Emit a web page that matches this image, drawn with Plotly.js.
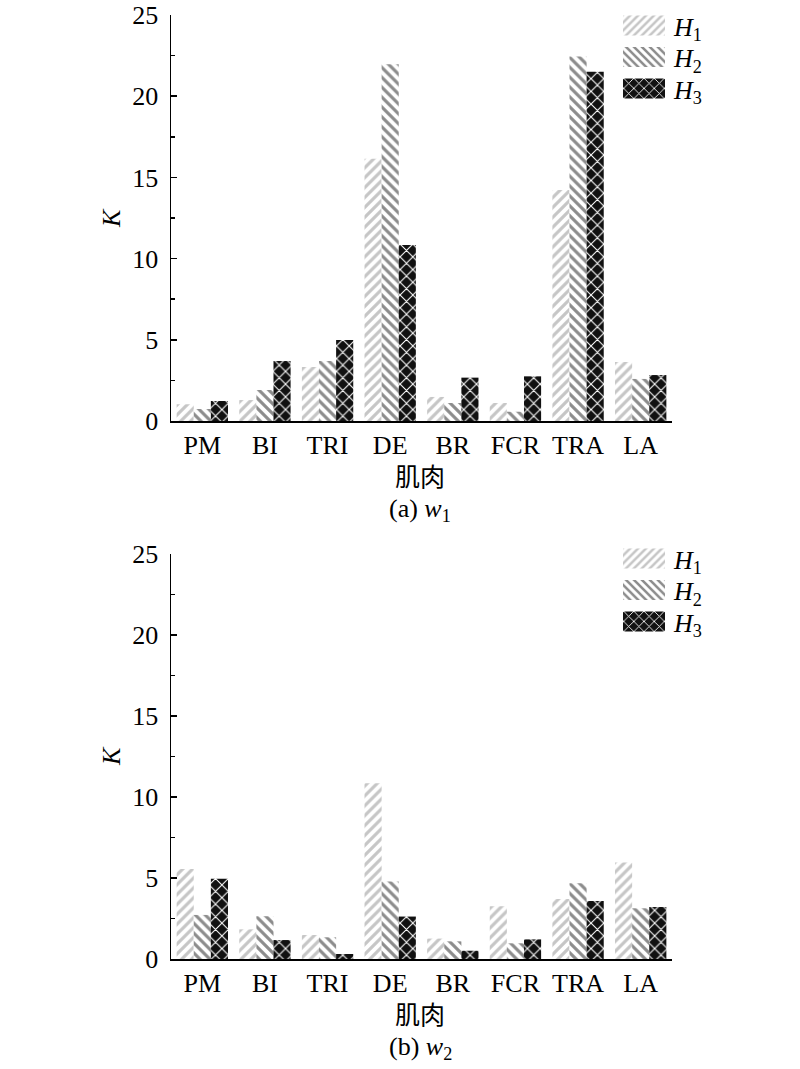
<!DOCTYPE html>
<html>
<head>
<meta charset="utf-8">
<script src="https://cdn.plot.ly/plotly-3.0.1.min.js"></script>
<style>html,body{margin:0;padding:0;background:#fff;}#chart{width:800px;height:1069px;}</style>
</head>
<body>
<div id="chart"></div>
<script>
// ---------- data ----------
const muscles = ["PM", "BI", "TRI", "DE", "BR", "FCR", "TRA", "LA"];
const seriesNames = ["<i>H</i><sub>1</sub>", "<i>H</i><sub>2</sub>", "<i>H</i><sub>3</sub>"];
// (a) w1
const w1_H1 = [1.03, 1.29, 3.33, 16.15, 1.48, 1.11, 14.22, 3.63];
const w1_H2 = [0.74, 1.91, 3.69, 21.96, 1.11, 0.57, 22.45, 2.59];
const w1_H3 = [1.23, 3.69, 4.99, 10.84, 2.67, 2.75, 21.51, 2.83];
// (b) w2
const w2_H1 = [5.56, 1.83, 1.48, 10.85, 1.26, 3.25, 3.71, 5.95];
const w2_H2 = [2.72, 2.64, 1.34, 4.78, 1.09, 0.97, 4.67, 3.13];
const w2_H3 = [4.96, 1.17, 0.31, 2.62, 0.51, 1.21, 3.58, 3.21];
const yTicks = [0, 5, 10, 15, 20, 25];
const xTitle = "肌肉";
const yTitle = "<i>K</i>";
const panelLabels = ["(a) <i>w</i><sub>1</sub>", "(b) <i>w</i><sub>2</sub>"];

// ---------- styling ----------
const W = 800, H = 1069;
const M = {l: 171, r: 128, t: 15, b: 110, autoexpand: false};
const PW = W - M.l - M.r, PH = H - M.t - M.b;
const px2x = px => (px - M.l) / PW;
const py2y = py => (H - M.b - py) / PH;

const serif = "Liberation Serif, Times New Roman, serif";
const cjk = "Noto Sans CJK SC, sans-serif";

const patterns = [
  {shape: "/", fgcolor: "#c6c6c6", bgcolor: "#ffffff", size: 7, solidity: 0.45, fillmode: "replace"},
  {shape: "\\", fgcolor: "#8c8c8c", bgcolor: "#ffffff", size: 7, solidity: 0.45, fillmode: "replace"},
  {shape: "x", fgcolor: "#ffffff", bgcolor: "#111111", size: 9, solidity: 0.22, fillmode: "replace"}
];

function mk(vals, i, xa, ya, leg) {
  return {
    type: "bar", x: muscles, y: vals, name: seriesNames[i],
    xaxis: xa, yaxis: ya, legend: leg,
    marker: {color: "#ffffff", line: {width: 0}, pattern: patterns[i]},
    hoverinfo: "x+y"
  };
}

const data = [
  mk(w1_H1, 0, "x", "y", "legend"),
  mk(w1_H2, 1, "x", "y", "legend"),
  mk(w1_H3, 2, "x", "y", "legend"),
  mk(w2_H1, 0, "x2", "y2", "legend2"),
  mk(w2_H2, 1, "x2", "y2", "legend2"),
  mk(w2_H3, 2, "x2", "y2", "legend2")
];

const axFont = {family: serif, size: 26, color: "#000"};
function xaxis(anchor) {
  return {
    anchor: anchor, domain: [0, 1], type: "category",
    range: [-0.5, muscles.length - 0.5],
    showline: true, linecolor: "#000", linewidth: 1.5,
    ticks: "", showgrid: false, zeroline: false,
    tickfont: axFont, fixedrange: true, automargin: false
  };
}
function yaxis(anchor, domain) {
  return {
    anchor: anchor, domain: domain, range: [0, 25],
    tickvals: yTicks, ticktext: yTicks.map(String),
    showline: true, linecolor: "#000", linewidth: 1.5,
    ticks: "inside", ticklen: 6, tickwidth: 1.5, tickcolor: "#000",
    minor: {dtick: 2.5, ticks: "inside", ticklen: 4, tickwidth: 1.5, tickcolor: "#000", showgrid: false},
    showgrid: false, zeroline: false, ticklabelstandoff: 6,
    tickfont: axFont, fixedrange: true, automargin: false
  };
}

const topDom = [py2y(421), py2y(15)];
const botDom = [py2y(959), py2y(554)];

function legendAt(topPx) {
  return {
    x: px2x(614), y: py2y(topPx), xref: "paper", yref: "paper",
    xanchor: "left", yanchor: "top",
    font: {family: serif, size: 26, color: "#000"},
    bgcolor: "rgba(0,0,0,0)", borderwidth: 0,
    itemwidth: 50, traceorder: "normal", tracegroupgap: 0
  };
}

function ann(text, xpx, ypx, font, angle) {
  return {
    text: text, x: px2x(xpx), y: py2y(ypx), xref: "paper", yref: "paper",
    showarrow: false, xanchor: "center", yanchor: "middle",
    font: font, textangle: angle || 0
  };
}

const layout = {
  width: W, height: H, margin: M,
  paper_bgcolor: "#fff", plot_bgcolor: "#fff",
  barmode: "group", bargap: 0.18, bargroupgap: 0,
  showlegend: true,
  xaxis: xaxis("y"), yaxis: yaxis("x", topDom),
  xaxis2: xaxis("y2"), yaxis2: yaxis("x2", botDom),
  legend: legendAt(2),
  legend2: legendAt(535),
  annotations: [
    ann(yTitle, 111, 218, {family: serif, size: 26, color: "#000"}, -90),
    ann(xTitle, 420, 475, {family: cjk, size: 25, color: "#000"}),
    ann(panelLabels[0], 420, 510, {family: serif, size: 26, color: "#000"}),
    ann(yTitle, 111, 756, {family: serif, size: 26, color: "#000"}, -90),
    ann(xTitle, 420, 1013, {family: cjk, size: 25, color: "#000"}),
    ann(panelLabels[1], 420, 1048, {family: serif, size: 26, color: "#000"})
  ]
};

const ROW = 31.5;
Plotly.newPlot("chart", data, layout, {displayModeBar: false, staticPlot: true}).then(function () {
  document.querySelectorAll("g.legendpoints path").forEach(function (p) {
    p.setAttribute("d", "M-21,-10H21V10H-21Z");
  });
  // tighten legend row spacing
  const groups = new Map();
  document.querySelectorAll("g.traces").forEach(function (t) {
    const par = t.parentNode;
    if (!groups.has(par)) groups.set(par, []);
    groups.get(par).push(t);
  });
  groups.forEach(function (items) {
    let x0 = null, y0 = null;
    items.forEach(function (t, i) {
      const m = /translate\(\s*([-\d.]+)[ ,]+([-\d.]+)\s*\)/.exec(t.getAttribute("transform") || "");
      if (!m) return;
      if (i === 0) { x0 = parseFloat(m[1]); y0 = parseFloat(m[2]); }
      t.setAttribute("transform", "translate(" + x0 + "," + (y0 + i * ROW) + ")");
    });
  });
});
</script>
</body>
</html>
